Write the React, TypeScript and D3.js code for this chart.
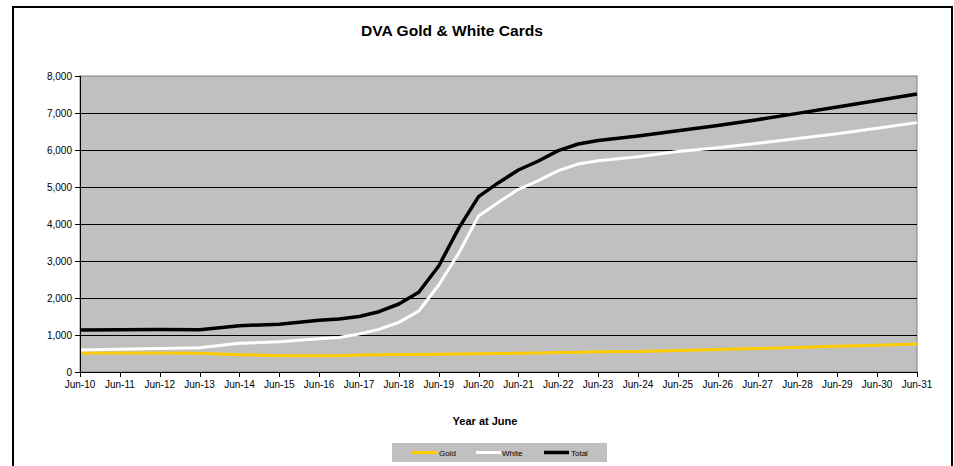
import React from "react";
import * as d3 from "d3";

const years = [10, 11, 12, 13, 14, 15, 16, 16.5, 17, 17.5, 18, 18.5, 19, 19.5, 20, 20.5, 21, 21.5, 22, 22.5, 23, 24, 25, 26, 27, 28, 29, 30, 31];
const gold = [514, 514, 514, 505, 468, 441, 441, 441, 460, 465, 470, 475, 480, 488, 495, 500, 505, 515, 525, 535, 545, 555, 580, 605, 635, 665, 695, 720, 755];
const white = [595, 613, 635, 658, 775, 820, 901, 935, 1027, 1153, 1342, 1649, 2351, 3207, 4216, 4586, 4937, 5171, 5441, 5622, 5711, 5820, 5960, 6060, 6180, 6310, 6440, 6590, 6740];
const total = [1135, 1145, 1150, 1145, 1252, 1288, 1396, 1432, 1500, 1630, 1838, 2154, 2865, 3883, 4739, 5117, 5460, 5703, 5982, 6162, 6255, 6380, 6520, 6660, 6820, 6990, 7160, 7340, 7515];
const tickYears = d3.range(10, 32);
const yTicks = [0, 1000, 2000, 3000, 4000, 5000, 6000, 7000, 8000];
const seriesNames = ["Gold", "White", "Total"];
const seriesColors = ["#FFCC00", "#FFFFFF", "#000000"];

export default function App() {
  const left = 80, right = 917, top = 76, bottom = 372;
  const x = d3.scaleLinear().domain([10, 31]).range([left, right]);
  const y = d3.scaleLinear().domain([0, 8000]).range([bottom, top]);
  const line = d3
    .line<number>()
    .x((_, i) => x(years[i]))
    .y((d) => y(d));
  const font = "Arial, 'Liberation Sans', sans-serif";
  const data = [gold, white, total];
  const widths = [3, 3, 3.5];
  const legendItems = [
    { lx: 412, tx: 439 },
    { lx: 476, tx: 502 },
    { lx: 544, tx: 571 },
  ];
  return (
    <svg
      width={954}
      height={466}
      style={{ position: "absolute", left: 0, top: 0, background: "#fff" }}
      fontFamily={font}
    >
      <rect x={13} y={7} width={939} height={500} fill="#fff" stroke="#000" strokeWidth={2} />
      <text x={452} y={36} textAnchor="middle" fontSize={14} fontWeight="bold" textLength={182} lengthAdjust="spacingAndGlyphs">
        DVA Gold &amp; White Cards
      </text>
      <rect x={left} y={top} width={right - left} height={bottom - top} fill="#C0C0C0" stroke="#808080" strokeWidth={1} />
      {yTicks.slice(1, -1).map((t) => (
        <line key={t} x1={left} x2={right} y1={Math.round(y(t)) + 0.5} y2={Math.round(y(t)) + 0.5} stroke="#000" strokeWidth={1} />
      ))}
      {data.map((s, i) => (
        <path key={i} d={line(s) || ""} fill="none" stroke={seriesColors[i]} strokeWidth={widths[i]} strokeLinejoin="round" />
      ))}
      <line x1={left + 0.5} x2={left + 0.5} y1={top} y2={bottom} stroke="#000" />
      <line x1={left} x2={right} y1={bottom + 0.5} y2={bottom + 0.5} stroke="#000" />
      {yTicks.map((t) => (
        <g key={t}>
          <line x1={75} x2={left} y1={Math.round(y(t)) + 0.5} y2={Math.round(y(t)) + 0.5} stroke="#000" />
          <text x={72} y={y(t) + 3.5} textAnchor="end" fontSize={10} fill="#000">
            {d3.format(",")(t)}
          </text>
        </g>
      ))}
      {tickYears.map((t) => (
        <g key={t}>
          <line x1={Math.round(x(t)) + 0.5} x2={Math.round(x(t)) + 0.5} y1={bottom} y2={bottom + 5} stroke="#000" />
          <text x={x(t)} y={388} textAnchor="middle" fontSize={10} fill="#000">
            {"Jun-" + t}
          </text>
        </g>
      ))}
      <text x={485} y={424.5} textAnchor="middle" fontSize={11} fontWeight="bold">
        Year at June
      </text>
      <rect x={392} y={443} width={215} height={19} fill="#C0C0C0" />
      {seriesNames.map((n, i) => (
        <g key={n}>
          <line x1={legendItems[i].lx} x2={legendItems[i].lx + 25} y1={452.5} y2={452.5} stroke={seriesColors[i]} strokeWidth={widths[i]} />
          <text x={legendItems[i].tx} y={455.5} fontSize={8} fill="#000">
            {n}
          </text>
        </g>
      ))}
    </svg>
  );
}
